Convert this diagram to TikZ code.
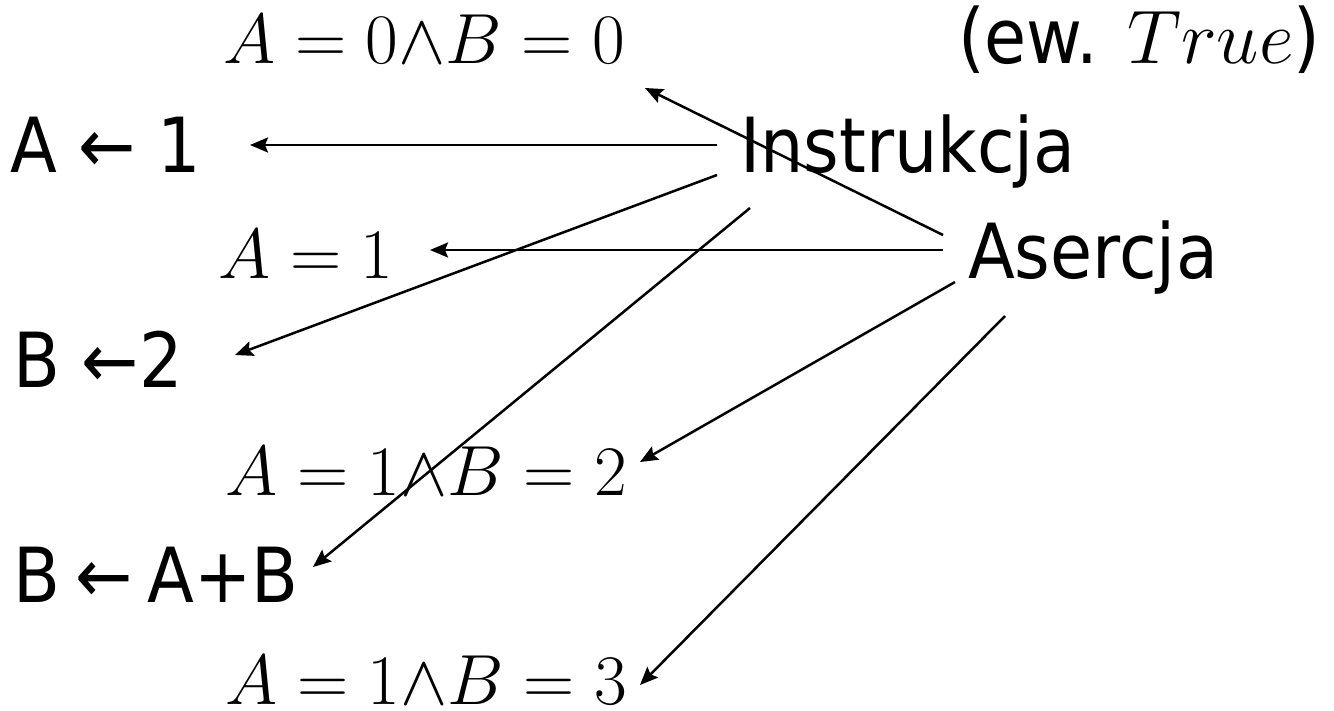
\RequirePackage{fix-cm}
\documentclass[tikz,border=0pt]{standalone}
\usepackage{fontspec}
\setmainfont{DejaVu Sans}[FakeStretch=0.9]
\usetikzlibrary{arrows.meta}

\begin{document}
\begin{tikzpicture}[x=1pt,y=-1pt,
	txt/.style={anchor=base west, inner sep=0pt, font=\fontsize{76}{90}\selectfont},
	frm/.style={anchor=base west, inner sep=0pt, font=\fontsize{71}{85}\selectfont},
	ptr/.style={-{Stealth[length=18pt,width=15pt,inset=3pt]}, line width=2.5pt}]
	\useasboundingbox (0,0) rectangle (1334,710);
	% formuly i instrukcje
	\node[frm] (Q0) at (223,63) {$A = 0{\wedge}B = 0$};
	\node[txt] (EW) at (958,63) {(ew. $True$)};
	\node[txt] (A1) at (10,172) {A ← 1};
	\node[txt] (INS) at (740,172) {Instrukcja};
	\node[frm] (Q1) at (218,278) {$A = 1$};
	\node[txt] (AS) at (968,278) {Asercja};
	\node[txt] (B2) at (13,387) {B ←2};
	\node[frm] (Q2) at (225,495) {$A = 1{\wedge}B = 2$};
	\node[txt] (B3) at (13,602) {B\hspace{.2em}←\hspace{.2em}A+B};
	\node[frm] (Q3) at (225,704) {$A = 1{\wedge}B = 3$};
	% strzalki
	\draw[ptr] ([shift={(-23,-27)}]INS.base west) -- ([shift={(240,-27)}]A1.base west);
	\draw[ptr] ([shift={(-23,3)}]INS.base west) -- ([shift={(222,-32)}]B2.base west);
	\draw[ptr] ([shift={(10,36)}]INS.base west) -- ([shift={(300,-35)}]B3.base west);
	\draw[ptr] ([shift={(-25,-43)}]AS.base west) -- ([shift={(422,25)}]Q0.base west);
	\draw[ptr] ([shift={(-25,-28)}]AS.base west) -- ([shift={(212,-28)}]Q1.base west);
	\draw[ptr] ([shift={(-13,4)}]AS.base west) -- ([shift={(415,-33)}]Q2.base west);
	\draw[ptr] ([shift={(37,38)}]AS.base west) -- ([shift={(415,-19)}]Q3.base west);
\end{tikzpicture}
\end{document}
